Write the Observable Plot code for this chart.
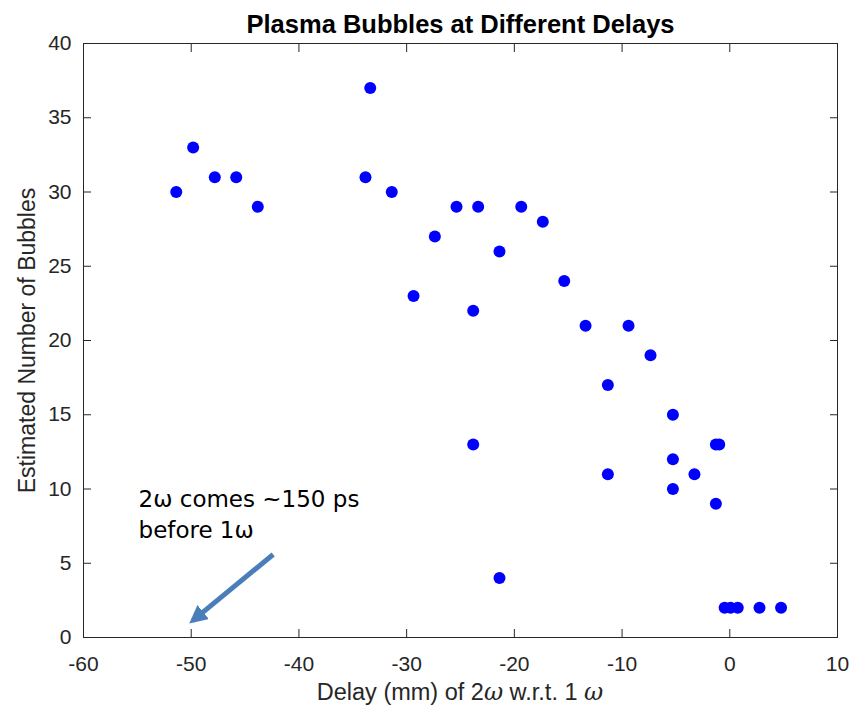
<!DOCTYPE html>
<html><head><meta charset="utf-8">
<script src="https://cdn.jsdelivr.net/npm/d3@7"></script>
<script src="https://cdn.jsdelivr.net/npm/@observablehq/plot@0.6"></script>
<style>body{margin:0;background:#fff}</style>
</head><body><div id="chart"></div>
<script>
// ---- data ----
const delay = [-51.39, -49.82, -47.81, -45.82, -43.82, -33.38, -33.82, -31.38, -27.38, -29.36,
  -25.37, -23.36, -23.82, -23.82, -21.38, -21.38, -19.36, -17.36, -15.37, -13.39,
  -11.32, -11.32, -9.4, -7.36, -5.28, -5.28, -5.28, -3.28, -1.29, -1.29,
  -0.98, -0.48, 0.08, 0.74, 2.76, 4.76];
const bubbles = [30, 33, 31, 31, 29, 37, 31, 30, 27, 23,
  29, 29, 22, 13, 26, 4, 29, 28, 24, 21,
  17, 11, 21, 19, 15, 12, 10, 11, 9, 13,
  13, 2, 2, 2, 2, 2];
const xTicks = [-60, -50, -40, -30, -20, -10, 0, 10];
const yTicks = [0, 5, 10, 15, 20, 25, 30, 35, 40];
const titleText = "Plasma Bubbles at Different Delays";
const yLabelText = "Estimated Number of Bubbles";
const xLabelParts = [
  {t: "Delay (mm) of 2", sym: false},
  {t: "ω", sym: true},
  {t: " w.r.t. 1 ", sym: false},
  {t: "ω", sym: true}
];
const noteText = "2ω comes ~150 ps\nbefore 1ω";
const noteX = [-54.89];
const noteY = [10.26];
const arrowX = [-42.39, -49.86];
const arrowY = [5.59, 1.14];

// ---- layout ----
const W = 853, H = 710, mL = 83, mR = 16, mT = 43, mB = 73;
const ink = "#262626";
const arrowColor = "#4a7ebb";
const points = delay.map((d, i) => ({x: d, y: bubbles[i]}));
const notes = noteX.map((x, i) => ({x, y: noteY[i], text: noteText}));
const arrows = [{x1: arrowX[0], y1: arrowY[0], x2: arrowX[1], y2: arrowY[1]}];

const arrowHead = (color) => {
  const m = d3.create("svg:marker")
    .attr("viewBox", "0 -5 10 10")
    .attr("refX", 7.5).attr("refY", 0)
    .attr("markerWidth", 3.6).attr("markerHeight", 3.6)
    .attr("orient", "auto")
    .attr("fill", color).attr("stroke", "none");
  m.append("path").attr("d", "M0,-5L10,0L0,5Z");
  return m.node();
};
const blank = () => "";

function build(useMarker) {
  const arrowMark = useMarker
    ? Plot.link(arrows, {x1: "x1", y1: "y1", x2: "x2", y2: "y2", stroke: arrowColor, strokeWidth: 5, markerEnd: arrowHead})
    : Plot.arrow(arrows, {x1: "x1", y1: "y1", x2: "x2", y2: "y2", stroke: arrowColor, strokeWidth: 5, headLength: 14, headAngle: 70});
  return Plot.plot({
    width: W, height: H,
    marginLeft: mL, marginRight: mR, marginTop: mT, marginBottom: mB,
    style: {fontFamily: "'Liberation Sans', Arial, Helvetica, sans-serif", fontSize: "21px", color: ink, background: "#fff"},
    x: {domain: [-60, 10]},
    y: {domain: [0, 40]},
    marks: [
      Plot.frame({stroke: ink, strokeWidth: 1}),
      Plot.axisX({ticks: xTicks, anchor: "bottom", tickSize: 8, dy: -8, tickFormat: blank, label: null, stroke: ink}),
      Plot.axisX({ticks: xTicks, anchor: "top", tickSize: 8, dy: 8, tickFormat: blank, label: null, stroke: ink}),
      Plot.axisY({ticks: yTicks, anchor: "left", tickSize: 8, dx: 8, tickFormat: blank, label: null, stroke: ink}),
      Plot.axisY({ticks: yTicks, anchor: "right", tickSize: 8, dx: -8, tickFormat: blank, label: null, stroke: ink}),
      Plot.axisX({ticks: xTicks, anchor: "bottom", tickSize: 0, tickPadding: 19, label: null, tickFormat: d => String(d), fill: ink}),
      Plot.axisY({ticks: yTicks, anchor: "left", tickSize: 0, tickPadding: 12, label: null, tickFormat: d => String(d), fill: ink}),
      Plot.dot(points, {x: "x", y: "y", r: 6, fill: "#0000ff"}),
      arrowMark,
      Plot.text(notes, {x: "x", y: "y", text: "text", textAnchor: "start", lineAnchor: "top", lineHeight: 1.35,
        fontFamily: "'DejaVu Sans', Verdana, sans-serif", fontSize: 23, fill: "#000"}),
      Plot.text([titleText], {text: d => d, frameAnchor: "top", dy: -19, lineAnchor: "middle", textAnchor: "middle",
        fontWeight: "bold", fontSize: 25.5, fill: "#000"}),
      Plot.text([yLabelText], {text: d => d, frameAnchor: "left", dx: -56, rotate: -90, lineAnchor: "middle", textAnchor: "middle",
        fontSize: 23, fill: ink})
    ]
  });
}
let chart;
try { chart = build(true); } catch (e) { console.error("marker fallback", e); chart = build(false); }
document.getElementById("chart").appendChild(chart);

// x-axis label with symbol-font omegas
const xl = d3.select(chart).append("text")
  .attr("x", (mL + W - mR) / 2).attr("y", 700)
  .attr("text-anchor", "middle")
  .attr("fill", ink)
  .style("font-family", "'Liberation Sans', Arial, Helvetica, sans-serif")
  .style("font-size", "23.5px");
xLabelParts.forEach(p => {
  const ts = xl.append("tspan").text(p.t);
  if (p.sym) ts.style("font-family", "'DejaVu Serif', 'Liberation Serif', serif").style("font-style", "italic");
});
</script>
</body></html>
